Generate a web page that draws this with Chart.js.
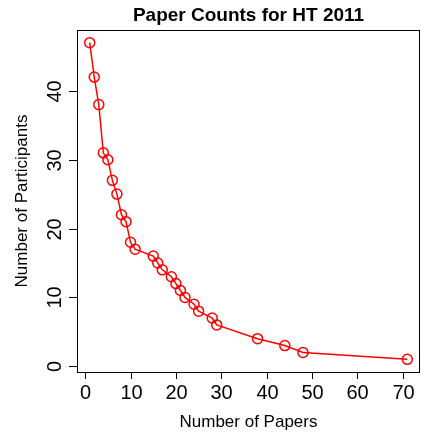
<!DOCTYPE html>
<html>
<head>
<meta charset="utf-8">
<script src="https://cdn.jsdelivr.net/npm/chart.js@4/dist/chart.umd.min.js"></script>
<style>
  html, body { margin: 0; padding: 0; background: #fff; }
  canvas { display: block; }
</style>
</head>
<body>
<canvas id="chart" width="421" height="433"></canvas>
<script>
// data
const papers = [1, 2, 3, 4, 5, 6, 7, 8, 9, 10, 11, 15, 16, 17, 19, 20, 21, 22, 24, 25, 28, 29, 38, 44, 48, 71];
const participants = [47, 42, 38, 31, 30, 27, 25, 22, 21, 18, 17, 16, 15, 14, 13, 12, 11, 10, 9, 8, 7, 6, 4, 3, 2, 1];
const xTicks = [0, 10, 20, 30, 40, 50, 60, 70];
const yTicks = [0, 10, 20, 30, 40];

const titleText = "Paper Counts for HT 2011";
const xTitle = "Number of Papers";
const yTitle = "Number of Participants";
const FONT = "'Liberation Sans', Arial, Helvetica, sans-serif";

// R style frame, ticks and labels
const rAxes = {
    id: "rAxes",
    afterDraw(chart) {
        const ctx = chart.ctx;
        const area = chart.chartArea;
        const xs = chart.scales.x;
        const ys = chart.scales.y;
        ctx.save();
        ctx.strokeStyle = "#000";
        ctx.fillStyle = "#000";
        ctx.lineWidth = 1;

        // box
        ctx.strokeRect(area.left + 0.5, area.top + 0.5, area.right - area.left - 1, area.bottom - area.top);

        // x axis
        ctx.font = "20px " + FONT;
        ctx.textAlign = "center";
        ctx.textBaseline = "middle";
        xTicks.forEach(v => {
            const px = Math.round(xs.getPixelForValue(v)) + 0.5;
            ctx.beginPath();
            ctx.moveTo(px, area.bottom);
            ctx.lineTo(px, area.bottom + 7);
            ctx.stroke();
            ctx.fillText(String(v), px, area.bottom + 21);
        });

        // y axis
        yTicks.forEach(v => {
            const py = Math.round(ys.getPixelForValue(v)) + 0.5;
            ctx.beginPath();
            ctx.moveTo(area.left - 8, py);
            ctx.lineTo(area.left, py);
            ctx.stroke();
            ctx.save();
            ctx.translate(area.left - 22, py);
            ctx.rotate(-Math.PI / 2);
            ctx.fillText(String(v), 0, 0);
            ctx.restore();
        });

        // axis titles
        ctx.font = "17px " + FONT;
        ctx.fillText(xTitle, (area.left + area.right) / 2, area.bottom + 50);
        ctx.save();
        ctx.translate(22, (area.top + area.bottom) / 2);
        ctx.rotate(-Math.PI / 2);
        ctx.fillText(yTitle, 0, 0);
        ctx.restore();

        // main title
        ctx.font = "bold 19px " + FONT;
        ctx.fillText(titleText, (area.left + area.right) / 2, 16);
        ctx.restore();
    }
};

const ctx = document.getElementById("chart").getContext("2d");

new Chart(ctx, {
    type: "line",
    data: {
        datasets: [{
            data: papers.map((p, i) => ({ x: p, y: participants[i] })),
            borderColor: "#ff0000",
            borderWidth: 1.5,
            pointStyle: "circle",
            pointRadius: 5,
            pointBorderWidth: 1.5,
            pointBorderColor: "#ff0000",
            pointBackgroundColor: "rgba(0,0,0,0)",
            tension: 0,
            fill: false
        }]
    },
    options: {
        responsive: false,
        animation: false,
        layout: { autoPadding: false, padding: { left: 77, right: 1, top: 30, bottom: 61 } },
        plugins: {
            legend: { display: false },
            tooltip: { enabled: false }
        },
        scales: {
            x: { type: "linear", min: -1.8, max: 73.8, display: false },
            y: { type: "linear", min: -0.84, max: 48.84, display: false }
        }
    },
    plugins: [rAxes]
});
</script>
</body>
</html>
